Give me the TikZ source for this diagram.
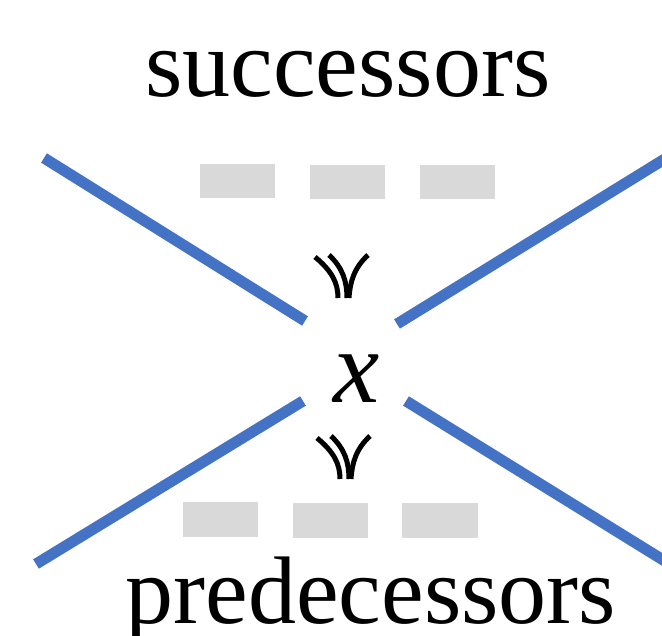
\documentclass[tikz,border=0pt]{standalone}
\usepackage{fontspec}
\setmainfont{Liberation Serif}
\definecolor{bline}{HTML}{4472C4}
\definecolor{gbox}{HTML}{D9D9D9}
\tikzset{
  bigline/.style={draw=bline, line width=11pt, line cap=butt},
  greybox/.style={fill=gbox, draw=none},
  word/.style={inner sep=0pt, anchor=base, font=\fontsize{96}{110}\selectfont},
  varx/.style={inner sep=0pt, anchor=base, font=\fontsize{104}{118}\selectfont\itshape},
  symstroke/.style={draw=black, line width=5pt, line cap=butt},
}
\newcommand{\succsym}[2]{%
  \begin{scope}[shift={(#1,#2)}]
    \draw[symstroke] (315,257) .. controls (332,271) and (338,283) .. (338,298);
    \draw[symstroke] (329,255) .. controls (343,268) and (347,282) .. (347,298);
    \draw[symstroke] (368,255) .. controls (354,268) and (350,282) .. (349,298);
  \end{scope}}
\begin{document}
\begin{tikzpicture}[x=1pt,y=-1pt]
\useasboundingbox (0,0) rectangle (662,636);
\clip (0,0) rectangle (662,636);
% lines
\draw[bigline] (44,158) -- (305,321);
\draw[bigline] (397,324) -- (668,157);
\draw[bigline] (303,401) -- (36,564);
\draw[bigline] (406,401) -- (668,563);
% grey boxes
\fill[greybox] (200,164) rectangle (275,198);
\fill[greybox] (310,165) rectangle (385,199);
\fill[greybox] (420,165) rectangle (495,199);
\fill[greybox] (183,502) rectangle (258,537);
\fill[greybox] (293,503) rectangle (368,538);
\fill[greybox] (402,503) rectangle (478,538);
% texts
\node[word] (succ) at (348,97) {successors};
\node[word] (pred) at (371,623) {predecessors};
\node[varx] (xv) at (357,403) {x};
% symbols
\succsym{0}{0}
\succsym{2}{181}
\end{tikzpicture}
\end{document}
